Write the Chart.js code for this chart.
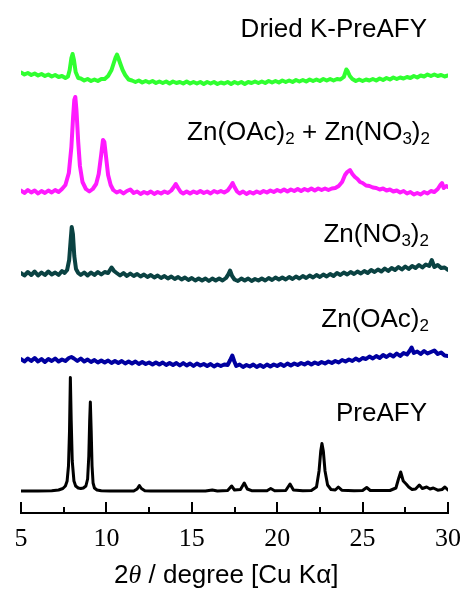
<!DOCTYPE html>
<html>
<head>
<meta charset="utf-8">
<script src="https://cdn.jsdelivr.net/npm/chart.js@4.4.1/dist/chart.umd.min.js"></script>
<style>
  body { margin: 0; background: #fff; }
  #wrap { position: relative; width: 465px; height: 592px; font-family: "Liberation Sans", Arial, sans-serif; color: #000; }
  #xrd { position: absolute; left: 0; top: 0; }
  .lbl { position: absolute; font-size: 26px; line-height: 26px; white-space: nowrap; }
  .lbl sub { font-size: 17px; line-height: 0; vertical-align: -4px; }
  #xtitle { position: absolute; left: 114px; top: 561px; font-size: 26px; line-height: 26px; white-space: nowrap; }
  #xtitle i { font-family: "Liberation Serif", serif; }
</style>
</head>
<body>
<div id="wrap">
  <canvas id="xrd" width="465" height="592"></canvas>
  <div class="lbl" style="right:38px; top:15px;">Dried K-PreAFY</div>
  <div class="lbl" style="right:35px; top:118px;">Zn(OAc)<sub>2</sub> + Zn(NO<sub>3</sub>)<sub>2</sub></div>
  <div class="lbl" style="right:36px; top:220px;">Zn(NO<sub>3</sub>)<sub>2</sub></div>
  <div class="lbl" style="right:36px; top:305px;">Zn(OAc)<sub>2</sub></div>
  <div class="lbl" style="right:38px; top:399px;">PreAFY</div>
  <div id="xtitle">2<i>θ</i> / degree [Cu Kα]</div>
</div>
<script>
// x axis
const tickValues = [5, 10, 15, 20, 25, 30];
const minorTickValues = [7.5, 12.5, 17.5, 22.5, 27.5];

// vertical offsets of the stacked patterns
const offsets = [433, 321, 239, 153, 22];
const names = ["Dried K-PreAFY", "Zn(OAc)2 + Zn(NO3)2", "Zn(NO3)2", "Zn(OAc)2", "PreAFY"];
const colors = ["#30ff30", "#ff1aff", "#0a4242", "#0000a0", "#000000"];

// Dried K-PreAFY
const driedX = [5.0,5.2,5.4,5.6,5.8,6.0,6.2,6.4,6.6,6.8,7.0,7.2,7.4,7.6,7.75,7.85,7.95,8.02,8.1,8.2,8.35,8.5,8.7,8.9,9.1,9.3,9.5,9.7,9.9,10.1,10.3,10.45,10.55,10.62,10.7,10.8,10.95,11.1,11.3,11.5,11.7,11.9,12.1,12.3,12.5,12.7,12.9,13.1,13.3,13.5,13.7,13.9,14.1,14.3,14.5,14.7,14.9,15.1,15.3,15.5,15.7,15.9,16.1,16.3,16.5,16.7,16.9,17.1,17.3,17.5,17.7,17.9,18.1,18.3,18.5,18.7,18.9,19.1,19.3,19.5,19.7,19.9,20.1,20.3,20.5,20.7,20.9,21.1,21.3,21.5,21.7,21.9,22.1,22.3,22.5,22.7,22.9,23.1,23.3,23.5,23.7,23.9,24.0,24.05,24.12,24.25,24.4,24.6,24.8,25.0,25.2,25.4,25.6,25.8,26.0,26.2,26.4,26.6,26.8,27.0,27.2,27.4,27.6,27.8,28.0,28.2,28.4,28.6,28.8,29.0,29.2,29.4,29.6,29.8,30.0];
const driedY = [7.5,5.5,7,5,6.5,4.5,6,4,5.5,3.5,5,3,4,2,3.5,10,22,26,20,8,2,1.5,-0.5,1,-1,0.5,-1,1,1,4,10,18,23,25.5,22,17,10,5,0.5,-0.5,-2,-0.5,-2.5,-1,-2.5,-1,-3,-1.5,-3,-1.5,-3.5,-1.5,-3,-2,-3.5,-1.5,-3.5,-2,-3.5,-2,-4,-2,-3.5,-2,-4,-2.5,-3.5,-2,-4,-2,-3.5,-2,-4,-2,-3,-1.5,-3,-1.5,-3,-1,-2.5,-1,-2.5,-0.5,-2,-0.5,-2,0,-1.5,0,-1.5,0.5,-1,0.5,-1,1,-0.5,1,-0.5,1,0.5,3,8,10.5,9,4,1,-1,0.5,-1,0.5,-0.5,1,-0.5,1.5,0,2,0.5,2.5,1,2.5,1.5,3,2,4,2.5,4.5,3.5,5.5,4,5.5,4,5,3.5,4.5];

// Zn(OAc)2 + Zn(NO3)2
const mixX = [5.0,5.2,5.4,5.6,5.8,6.0,6.2,6.4,6.6,6.8,7.0,7.2,7.4,7.6,7.8,7.95,8.05,8.12,8.18,8.25,8.35,8.45,8.6,8.8,9.0,9.2,9.4,9.55,9.7,9.8,9.88,9.98,10.1,10.25,10.4,10.6,10.8,11.0,11.2,11.4,11.6,11.8,12.0,12.2,12.4,12.6,12.8,13.0,13.2,13.4,13.6,13.8,13.95,14.06,14.2,14.35,14.5,14.7,14.9,15.1,15.3,15.5,15.7,15.9,16.1,16.3,16.5,16.7,16.9,17.1,17.25,17.39,17.5,17.65,17.8,18.0,18.2,18.4,18.6,18.8,19.0,19.2,19.4,19.6,19.8,20.0,20.2,20.4,20.6,20.8,21.0,21.2,21.4,21.6,21.8,22.0,22.2,22.4,22.6,22.8,23.0,23.2,23.4,23.6,23.8,23.97,24.1,24.26,24.4,24.55,24.7,24.85,25.0,25.2,25.4,25.6,25.8,26.0,26.2,26.4,26.6,26.8,27.0,27.2,27.4,27.6,27.8,28.0,28.2,28.4,28.6,28.8,29.0,29.2,29.4,29.55,29.65,29.75,29.9,30.0];
const mixY = [1.5,-1,2,-0.5,1.5,-1.5,1,-1,1.5,-0.5,2,0,3,7,19,45,75,92,95,81,50,26,10,3,0.5,3,8,18,38,52,50,35,17,7,2,-0.5,1,-1.5,1,2.5,-1,0.5,-2,0,-1.5,0.5,-2,0,-1.5,0.5,-1,1.5,5,8,4,0,-1.5,0.5,-1.5,0.5,-1,1,-1,0.5,-1.5,1,-0.5,1,-0.5,1.5,5,9,5,0.5,-1.5,0.5,-2,0,-1.5,0.5,-1,1,-0.5,1.5,0,2,0.5,2.5,0.5,2.5,1,3,1,3,1.5,3.5,1.5,3.5,2,3.5,2,3.5,4,6,10,17,20,22,18,15,13,10,9,6.5,6,4.5,4,2.5,3.5,1.5,2.5,0.5,1.5,-0.5,1,-1.5,0,-2.5,-1,-2.5,0,-1.5,1,0,3,7,9,4,6,5];

// Zn(NO3)2
const nitX = [5.0,5.2,5.4,5.6,5.8,6.0,6.2,6.4,6.6,6.8,7.0,7.2,7.4,7.55,7.7,7.82,7.9,7.97,8.04,8.12,8.22,8.35,8.5,8.7,8.9,9.1,9.3,9.5,9.7,9.9,10.1,10.3,10.45,10.6,10.8,11.0,11.2,11.4,11.6,11.8,12.0,12.2,12.4,12.6,12.8,13.0,13.2,13.4,13.6,13.8,14.0,14.2,14.4,14.6,14.8,15.0,15.2,15.4,15.6,15.8,16.0,16.2,16.4,16.6,16.8,17.0,17.12,17.24,17.36,17.5,17.7,17.9,18.1,18.3,18.5,18.7,18.9,19.1,19.3,19.5,19.7,19.9,20.1,20.3,20.5,20.7,20.9,21.1,21.3,21.5,21.7,21.9,22.1,22.3,22.5,22.7,22.9,23.1,23.3,23.5,23.7,23.9,24.1,24.3,24.5,24.7,24.9,25.1,25.3,25.5,25.7,25.9,26.1,26.3,26.5,26.7,26.9,27.1,27.3,27.5,27.7,27.9,28.1,28.3,28.5,28.7,28.9,29.05,29.2,29.4,29.6,29.8,30.0];
const nitY = [1,-1.5,2,-1,2.5,-1.5,1.5,-1,2.5,-0.5,1.5,-1,3,1,4,14,32,47,40,18,5,1,-1,1.5,-1.5,1.5,-1,2,-0.5,2,1,6.5,3,1,-1.5,1,-2,0.5,-2,0,-2.5,-0.5,-3,-1,-3.5,-1.5,-4,-2,-4.5,-2.5,-5,-3,-5.5,-3.5,-6,-4,-6.5,-4.5,-6.5,-4.5,-7,-4.5,-6.5,-4.5,-6.5,-4,-1,3.5,-2,-5.5,-7,-4.5,-6.5,-4.5,-7,-5,-6.5,-4.5,-6.5,-4,-6,-3.5,-5.5,-3.5,-5.5,-3,-5,-2.5,-4.5,-2,-4,-1.5,-3.5,-1,-3,-0.5,-2.5,0,-2,1,-1,1.5,-0.5,2,0,2.5,0.5,3,1,4,2,4.5,2.5,5.5,3,6,4,7,4.5,7.5,5,8,6,9,6.5,9.5,8,14,7,9,6,6.5,4];

// Zn(OAc)2
const aceX = [5.0,5.2,5.4,5.6,5.8,6.0,6.2,6.4,6.6,6.8,7.0,7.2,7.4,7.6,7.8,7.95,8.1,8.3,8.5,8.7,8.9,9.1,9.3,9.5,9.7,9.9,10.1,10.3,10.5,10.7,10.9,11.1,11.3,11.5,11.7,11.9,12.1,12.3,12.5,12.7,12.9,13.1,13.3,13.5,13.7,13.9,14.1,14.3,14.5,14.7,14.9,15.1,15.3,15.5,15.7,15.9,16.1,16.3,16.5,16.7,16.9,17.1,17.25,17.37,17.48,17.6,17.8,18.0,18.2,18.4,18.6,18.8,19.0,19.2,19.4,19.6,19.8,20.0,20.2,20.4,20.6,20.8,21.0,21.2,21.4,21.6,21.8,22.0,22.2,22.4,22.6,22.8,23.0,23.2,23.4,23.6,23.8,24.0,24.2,24.4,24.6,24.8,25.0,25.2,25.4,25.6,25.8,26.0,26.2,26.4,26.6,26.8,27.0,27.2,27.4,27.6,27.75,27.87,28.0,28.2,28.4,28.6,28.8,29.0,29.2,29.4,29.6,29.8,30.0];
const aceY = [1,-1.5,1.5,-1,2,-1.5,1,-2,1,-1,1.5,-1.5,0.5,-1,2,3,1.5,-1,1.5,-1.5,0.5,-2,0,-2.5,-0.5,-2.5,-0.5,-3,-1,-3,-1,-3.5,-1.5,-3.5,-1.5,-4,-2,-4,-2.5,-4.5,-2.5,-4.5,-2.5,-5,-3,-5,-3,-5.5,-3,-5.5,-3.5,-6,-3.5,-5.5,-4,-6,-4,-6.5,-4.5,-6,-4.5,-5,0,4.5,-1,-6,-4.5,-7,-5,-6.5,-4.5,-7,-5,-7,-4.5,-6.5,-4.5,-6,-4,-6,-3.5,-5.5,-3.5,-5,-3,-4.5,-2.5,-4.5,-2.5,-4,-2,-3.5,-1.5,-3,-1,-2.5,0,-1.5,0.5,-1,1.5,-0.5,2,1,3.5,1.5,4,2,5,3,5.5,3.5,6.5,4,7,5.5,9,12.5,7,8.5,6,9,6.5,8,9.5,6,7.5,4.5,4];

// PreAFY (reference pattern)
const preX = [5.0,6.0,6.8,7.2,7.45,7.6,7.7,7.78,7.84,7.89,7.94,8.0,8.1,8.2,8.35,8.5,8.65,8.8,8.9,8.97,9.02,9.06,9.11,9.16,9.22,9.3,9.45,9.7,10.2,11.6,11.8,11.93,12.05,12.25,12.6,15.8,16.2,16.5,17.1,17.33,17.5,17.85,18.07,18.25,18.5,19.4,19.62,19.85,20.5,20.75,20.95,21.5,22.0,22.3,22.45,22.55,22.62,22.7,22.8,22.95,23.15,23.4,23.58,23.78,24.5,25.0,25.24,25.45,26.6,26.95,27.1,27.23,27.38,27.55,27.7,27.9,28.1,28.32,28.5,28.75,28.95,29.14,29.4,29.65,29.82,30.0];
const preY = [0,0,0.3,1,2.5,5,10,25,60,113.5,70,30,10,5,3,2.5,3,5,12,35,70,89,60,25,8,3,1,0.3,0,0,2,5.5,2.5,0.3,0,0,1,0,0.5,5,1,1.5,8,2,0.3,0.3,2.5,0.3,0.5,7,1,0.3,0.5,4,20,40,47.5,40,20,6,1.5,1,4,0.8,0.3,0.5,3.5,0.5,0.5,3,12,19,10,7,4,1.5,2,6,2.5,4,2,3,0.8,1.5,4,1];

const seriesX = [driedX, mixX, nitX, aceX, preX];
const seriesY = [driedY, mixY, nitY, aceY, preY];

const datasets = seriesX.map((xs, i) => ({
  label: names[i],
  data: xs.map((x, j) => ({ x: x, y: seriesY[i][j] + offsets[i] })),
  borderColor: colors[i],
  borderWidth: i === 4 ? 3 : 4,
  pointRadius: 0,
  tension: 0,
  borderJoinStyle: "round",
  borderCapStyle: "round",
  fill: false
}));

// inward tick marks on the 2theta axis
const inwardTicks = {
  id: "inwardTicks",
  afterDraw(chart) {
    const xs = chart.scales.x;
    const ctx = chart.ctx;
    const y0 = chart.chartArea.bottom;
    ctx.save();
    ctx.strokeStyle = "#000";
    ctx.lineWidth = 2;
    ctx.lineCap = "butt";
    const draw = (v, len) => {
      const px = Math.round(xs.getPixelForValue(v));
      ctx.beginPath();
      ctx.moveTo(px, y0);
      ctx.lineTo(px, y0 - len);
      ctx.stroke();
    };
    tickValues.forEach(v => draw(v, 11));
    minorTickValues.forEach(v => draw(v, 6));
    ctx.restore();
  }
};

new Chart(document.getElementById("xrd"), {
  type: "line",
  data: { datasets: datasets },
  plugins: [inwardTicks],
  options: {
    responsive: false,
    animation: false,
    devicePixelRatio: 1,
    layout: { padding: { left: 21, right: 17, top: 0, bottom: 0 } },
    plugins: { legend: { display: false }, tooltip: { enabled: false } },
    scales: {
      x: {
        type: "linear",
        min: 5,
        max: 30,
        afterBuildTicks(scale) { scale.ticks = tickValues.map(v => ({ value: v })); },
        afterFit(scale) { scale.height = 79; },
        grid: { display: false },
        border: { display: true, color: "#000", width: 2 },
        ticks: {
          color: "#000",
          padding: 3,
          maxRotation: 0,
          font: { family: "'Liberation Serif', 'Times New Roman', serif", size: 26 }
        }
      },
      y: {
        display: false,
        min: 0,
        max: 513
      }
    }
  }
});
</script>
</body>
</html>
